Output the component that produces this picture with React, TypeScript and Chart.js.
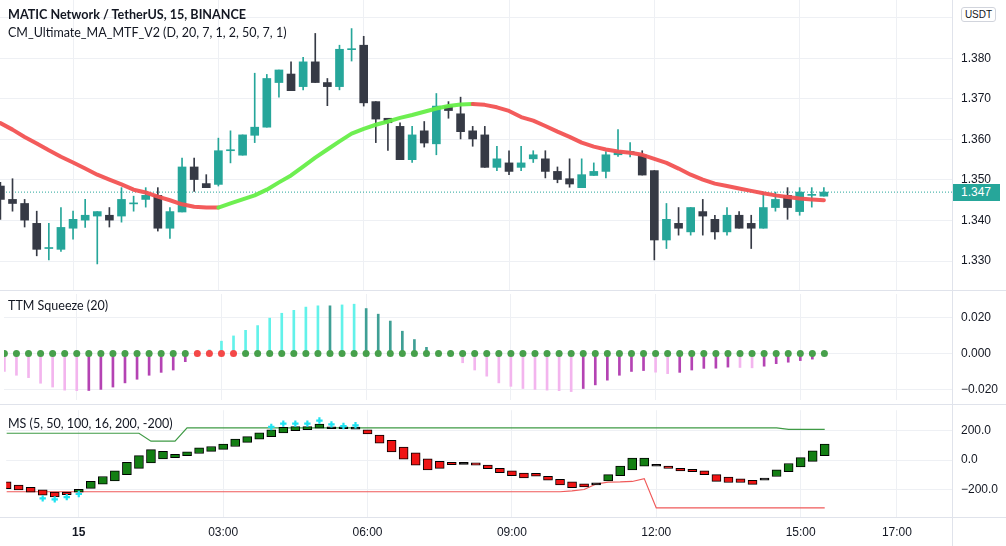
import React, { useEffect, useRef } from 'react';
import { Chart, registerables } from 'chart.js';

Chart.register(...registerables);

// ---------- data ----------
const timeTickIdx = [6, 18, 30, 42, 54, 66, 74];
const timeTickLabels = ['15', '03:00', '06:00', '09:00', '12:00', '15:00', '17:00'];

const opens = [1.3485, 1.3452, 1.3442, 1.3393, 1.3331, 1.3329, 1.3381, 1.3401, 1.3411, 1.3413, 1.3411, 1.3441, 1.3452, 1.3462, 1.3381, 1.3421, 1.3532, 1.3491, 1.3489, 1.3572, 1.3561, 1.3610, 1.3630, 1.3740, 1.3761, 1.3730, 1.3791, 1.3740, 1.3730, 1.3821, 1.3832, 1.3693, 1.3652, 1.3632, 1.3550, 1.3621, 1.3589, 1.3682, 1.3663, 1.3621, 1.3611, 1.3531, 1.3542, 1.3531, 1.3552, 1.3552, 1.3521, 1.3503, 1.3481, 1.3511, 1.3521, 1.3562, 1.3568, 1.3562, 1.3523, 1.3352, 1.3393, 1.3372, 1.3422, 1.3403, 1.3372, 1.3413, 1.3393, 1.3381, 1.3432, 1.3462, 1.3422, 1.3462, 1.3460];
const highs = [1.3494, 1.3503, 1.3452, 1.3423, 1.3393, 1.3432, 1.3423, 1.3452, 1.3422, 1.3432, 1.3481, 1.3460, 1.3481, 1.3481, 1.3432, 1.3554, 1.3554, 1.3513, 1.3603, 1.3621, 1.3611, 1.3763, 1.3760, 1.3771, 1.3791, 1.3802, 1.3861, 1.3750, 1.3832, 1.3873, 1.3854, 1.3693, 1.3652, 1.3641, 1.3632, 1.3644, 1.3713, 1.3693, 1.3704, 1.3632, 1.3632, 1.3583, 1.3572, 1.3583, 1.3572, 1.3572, 1.3532, 1.3552, 1.3552, 1.3542, 1.3570, 1.3624, 1.3592, 1.3572, 1.3523, 1.3442, 1.3432, 1.3432, 1.3452, 1.3413, 1.3432, 1.3422, 1.3413, 1.3470, 1.3470, 1.3481, 1.3481, 1.3481, 1.3481];
const lows = [1.3403, 1.3423, 1.3384, 1.3313, 1.3303, 1.3324, 1.3354, 1.3383, 1.3293, 1.3384, 1.3396, 1.3423, 1.3433, 1.3374, 1.3356, 1.3421, 1.3472, 1.3481, 1.3485, 1.3542, 1.3561, 1.3592, 1.3630, 1.3704, 1.3720, 1.3722, 1.3740, 1.3683, 1.3722, 1.3793, 1.3682, 1.3592, 1.3573, 1.3550, 1.3543, 1.3581, 1.3562, 1.3652, 1.3601, 1.3583, 1.3531, 1.3523, 1.3513, 1.3523, 1.3543, 1.3505, 1.3493, 1.3482, 1.3481, 1.3511, 1.3505, 1.3558, 1.3557, 1.3512, 1.3303, 1.3331, 1.3364, 1.3364, 1.3364, 1.3354, 1.3364, 1.3381, 1.3331, 1.3381, 1.3423, 1.3403, 1.3413, 1.3433, 1.3460];
const closes = [1.3452, 1.3442, 1.3401, 1.3329, 1.3332, 1.3383, 1.3403, 1.3413, 1.3422, 1.3401, 1.3452, 1.3442, 1.3462, 1.3381, 1.3422, 1.3532, 1.3501, 1.3481, 1.3572, 1.3573, 1.3611, 1.3630, 1.3750, 1.3771, 1.3720, 1.3791, 1.3740, 1.3730, 1.3822, 1.3822, 1.3690, 1.3650, 1.3641, 1.3550, 1.3611, 1.3591, 1.3682, 1.3671, 1.3619, 1.3601, 1.3531, 1.3552, 1.3521, 1.3542, 1.3562, 1.3521, 1.3501, 1.3490, 1.3513, 1.3521, 1.3562, 1.3570, 1.3569, 1.3512, 1.3352, 1.3403, 1.3381, 1.3432, 1.3411, 1.3372, 1.3413, 1.3381, 1.3381, 1.3432, 1.3452, 1.3432, 1.3470, 1.3463, 1.3470];
const maValues = [1.3640, 1.3624, 1.3606, 1.3590, 1.3573, 1.3557, 1.3543, 1.3528, 1.3513, 1.3501, 1.3489, 1.3476, 1.3469, 1.3459, 1.3450, 1.3440, 1.3434, 1.3432, 1.3432, 1.3442, 1.3452, 1.3462, 1.3476, 1.3494, 1.3511, 1.3533, 1.3555, 1.3575, 1.3595, 1.3614, 1.3626, 1.3636, 1.3644, 1.3653, 1.3660, 1.3668, 1.3676, 1.3682, 1.3686, 1.3687, 1.3685, 1.3679, 1.3670, 1.3655, 1.3646, 1.3633, 1.3619, 1.3606, 1.3592, 1.3582, 1.3575, 1.3570, 1.3567, 1.3562, 1.3552, 1.3542, 1.3528, 1.3513, 1.3501, 1.3491, 1.3485, 1.3479, 1.3473, 1.3467, 1.3462, 1.3458, 1.3454, 1.3452, 1.3450];
const lastPrice = 1.347;
const priceTicks = [1.33, 1.34, 1.35, 1.36, 1.37, 1.38, 1.39];

const ttmValues = [-0.0099, -0.0120, -0.0133, -0.0164, -0.0185, -0.0202, -0.0205, -0.0204, -0.0198, -0.0185, -0.0162, -0.0142, -0.0120, -0.0104, -0.0091, -0.0045, 0, 0.0020, 0.0068, 0.0097, 0.0128, 0.0154, 0.0195, 0.0222, 0.0238, 0.0256, 0.0263, 0.0263, 0.0268, 0.0272, 0.0248, 0.0217, 0.0179, 0.0123, 0.0077, 0.0034, 0, 0, -0.0051, -0.0091, -0.0125, -0.0162, -0.0181, -0.0193, -0.0198, -0.0202, -0.0205, -0.0210, -0.0193, -0.0173, -0.0147, -0.0120, -0.0099, -0.0094, -0.0103, -0.0111, -0.0104, -0.0091, -0.0082, -0.0081, -0.0075, -0.0077, -0.0079, -0.0070, -0.0056, -0.0048, -0.0039, -0.0031, 0];
const squeezeOnIdx = [16, 17, 18, 19];
const ttmTicks = [-0.02, 0, 0.02];

const msTop = [-146, -167, -182, -199, -214, -214, -195, -142, -110, -72, -15, 30, 70, 59, 38, 55, 83, 91, 108, 140, 157, 182, 203, 220, 224, 224, 241, 214, 214, 212, 203, 167, 133, 87, 49, 8, -8, -15, -15, -19, -34, -55, -72, -87, -89, -108, -129, -146, -159, -152, -97, -40, 13, 13, -28, -40, -55, -62, -72, -97, -114, -125, -135, -121, -65, -23, 17, 62, 108];
const msBottom = [-192, -199, -214, -235, -246, -231, -214, -189, -161, -140, -97, -55, -19, 8, 17, 30, 44, 59, 72, 91, 119, 140, 157, 182, 197, 203, 214, 210, 210, 208, 176, 114, 55, 6, -34, -65, -55, -30, -19, -34, -57, -84, -104, -119, -108, -135, -167, -184, -180, -156, -140, -104, -65, -40, -32, -55, -72, -78, -97, -142, -150, -150, -163, -129, -110, -78, -46, -8, 30];
const msKind = ['r', 'r', 'r', 'r', 'r', 'r', 'g', 'g', 'g', 'g', 'g', 'g', 'g', 'g', 'g', 'g', 'g', 'g', 'g', 'g', 'g', 'g', 'g', 'g', 'g', 'g', 'g', 'k', 'k', 'k', 'r', 'r', 'r', 'r', 'r', 'r', 'r', 'r', 'k', 'r', 'r', 'r', 'r', 'r', 'r', 'r', 'r', 'r', 'r', 'k', 'g', 'g', 'g', 'g', 'k', 'r', 'r', 'r', 'r', 'r', 'r', 'r', 'r', 'k', 'g', 'g', 'g', 'g', 'g'];
const msUpper = [180, 180, 180, 180, 180, 180, 180, 180, 180, 180, 180, 180, 127, 127, 127, 216, 216, 216, 216, 216, 216, 216, 216, 216, 216, 216, 216, 216, 216, 216, 216, 216, 216, 216, 216, 216, 216, 216, 216, 216, 216, 216, 216, 216, 216, 216, 216, 216, 216, 216, 216, 216, 216, 216, 216, 216, 216, 216, 216, 216, 216, 216, 216, 216, 216, 206, 206, 206, 206];
const msLower = [-212, -212, -212, -212, -212, -212, -212, -212, -212, -212, -212, -212, -212, -212, -212, -212, -212, -212, -212, -212, -212, -212, -212, -212, -212, -212, -212, -212, -212, -212, -212, -212, -212, -212, -212, -212, -212, -212, -212, -212, -212, -212, -212, -212, -212, -212, -212, -206, -197, -160, -147, -146, -143, -124, -320, -320, -320, -320, -320, -320, -320, -320, -320, -320, -320, -320, -320, -320, -320];
const msSignalIdx = [3, 4, 5, 6, 22, 23, 24, 25, 26, 27, 28, 29];
const msSignalVal = [-256, -263, -248, -227, 222, 244, 244, 244, 265, 239, 228, 233];
const msTicks = [-200, 0, 200];

// ---------- styles ----------
const X_MIN = -0.033;
const X_MAX = 78.58;
const GRID = '#eef0f4';
const SEP = '#e0e3eb';
const TEXT = '#131722';
const TEAL = '#26a69a';
const DARK = '#363a45';
const AXIS_FONT = "'Liberation Sans', Arial, sans-serif";
const LEGEND_FONT = "Lato, 'Open Sans', sans-serif";

const minus = (s: string) => s.replace('-', '\u2212');

function xScale(showLabels: boolean): any {
  return {
    type: 'linear',
    min: X_MIN,
    max: X_MAX,
    offset: false,
    bounds: 'data',
    grid: { color: GRID, drawTicks: false, offset: false, lineWidth: 1 },
    border: { display: false },
    afterBuildTicks: (s: any) => {
      s.ticks = timeTickIdx.map((v) => ({ value: v }));
    },
    afterFit: (s: any) => {
      s.height = showLabels ? 29 : 0;
      s.paddingLeft = 0;
      s.paddingRight = 0;
      s.paddingTop = 0;
      s.paddingBottom = 0;
    },
    ticks: {
      display: showLabels,
      autoSkip: false,
      maxRotation: 0,
      minRotation: 0,
      padding: 8,
      color: TEXT,
      font: (ctx: any) => ({
        family: AXIS_FONT,
        size: 12,
        weight: ctx.tick && ctx.tick.value === 6 ? 'bold' : 'normal',
      }),
      callback: (v: any) => {
        const k = timeTickIdx.indexOf(Math.round(Number(v)));
        return k >= 0 ? timeTickLabels[k] : '';
      },
    },
  };
}

function yScale(min: number, max: number, ticks: number[], fmt: (v: number) => string): any {
  return {
    type: 'linear',
    position: 'right',
    min,
    max,
    bounds: 'data',
    grid: { color: GRID, drawTicks: false },
    border: { display: true, color: SEP },
    afterBuildTicks: (s: any) => {
      s.ticks = ticks.map((v) => ({ value: v }));
    },
    afterFit: (s: any) => {
      s.width = 54;
      s.paddingTop = 0;
      s.paddingBottom = 0;
      s.paddingLeft = 0;
      s.paddingRight = 0;
    },
    ticks: {
      autoSkip: false,
      padding: 9,
      color: TEXT,
      font: { family: AXIS_FONT, size: 12 },
      callback: (v: any) => fmt(Number(v)),
    },
  };
}

const baseOptions: any = {
  responsive: false,
  maintainAspectRatio: false,
  animation: false,
  events: [],
  layout: { padding: 0 },
  plugins: { legend: { display: false }, tooltip: { enabled: false } },
};

function mainConfig(): any {
  const colors = opens.map((o, i) => (closes[i] >= o ? TEAL : DARK));
  return {
    type: 'bar',
    data: {
      datasets: [
        {
          type: 'line',
          data: maValues.map((y, i) => ({ x: i, y })),
          borderWidth: 4,
          pointRadius: 0,
          borderCapStyle: 'round',
          borderJoinStyle: 'round',
          segment: {
            borderColor: (ctx: any) => (ctx.p1.parsed.y > ctx.p0.parsed.y ? 'rgba(102,238,72,0.95)' : 'rgba(242,82,82,0.95)'),
          },
          order: 0,
        },
        {
          type: 'bar',
          data: opens.map((o, i) => ({ x: i, y: [o, closes[i]] })),
          backgroundColor: colors,
          barThickness: 8,
          minBarLength: 1,
          grouped: false,
          borderWidth: 0,
          order: 1,
        },
        {
          type: 'bar',
          data: lows.map((l, i) => ({ x: i, y: [l, highs[i]] })),
          backgroundColor: colors,
          barThickness: 1,
          grouped: false,
          borderWidth: 0,
          order: 2,
        },
        {
          type: 'line',
          data: [
            { x: X_MIN, y: lastPrice },
            { x: X_MAX, y: lastPrice },
          ],
          borderColor: TEAL,
          borderWidth: 1,
          borderDash: [1, 2],
          pointRadius: 0,
          order: 3,
        },
      ],
    },
    options: {
      ...baseOptions,
      scales: {
        x: xScale(false),
        y: yScale(1.322878, 1.394342, priceTicks, (v) => (v > 1.385 ? '' : v.toFixed(3))),
      },
    },
  };
}

function ttmConfig(): any {
  const colors = ttmValues.map((v, i) => {
    const prev = i > 0 ? ttmValues[i - 1] : v + 0.001;
    if (v >= 0) return v > prev ? '#62f2ea' : '#3f9f95';
    return v > prev ? '#b443b3' : '#f3b5ee';
  });
  return {
    type: 'bar',
    data: {
      datasets: [
        {
          type: 'line',
          data: ttmValues.map((_, i) => ({ x: i, y: 0 })),
          showLine: false,
          pointRadius: 3.5,
          pointBorderWidth: 0,
          pointBackgroundColor: ttmValues.map((_, i) => (squeezeOnIdx.includes(i) ? '#f44848' : '#47a04b')),
          order: 0,
        },
        {
          type: 'bar',
          data: ttmValues.map((v, i) => ({ x: i, y: [0, v] })),
          backgroundColor: colors,
          barThickness: 2,
          grouped: false,
          borderWidth: 0,
          order: 1,
        },
      ],
    },
    options: {
      ...baseOptions,
      scales: {
        x: xScale(false),
        y: yScale(-0.02564, 0.03282, ttmTicks, (v) => minus(v.toFixed(3))),
      },
    },
  };
}

function msConfig(): any {
  const fill = msKind.map((k) => (k === 'g' ? '#137f13' : k === 'r' ? '#f01414' : '#000000'));
  return {
    type: 'bar',
    data: {
      datasets: [
        {
          type: 'line',
          data: msSignalIdx.map((x, i) => ({ x, y: msSignalVal[i] })),
          showLine: false,
          pointStyle: 'cross',
          pointRadius: 3.2,
          pointBorderWidth: 2.2,
          pointBorderColor: '#1fe2f0',
          borderColor: '#1fe2f0',
          order: 0,
        },
        {
          type: 'bar',
          data: msTop.map((t, i) => ({ x: i, y: [msBottom[i], t] })),
          backgroundColor: fill,
          borderColor: '#000000',
          borderWidth: 1,
          borderSkipped: false,
          barThickness: 9,
          minBarLength: 2,
          grouped: false,
          order: 1,
        },
        {
          type: 'line',
          data: msUpper.map((y, i) => ({ x: i, y })),
          borderColor: '#3f9a45',
          borderWidth: 1.2,
          pointRadius: 0,
          order: 2,
        },
        {
          type: 'line',
          data: msLower.map((y, i) => ({ x: i, y })),
          borderColor: '#f05a5a',
          borderWidth: 1.2,
          pointRadius: 0,
          order: 3,
        },
      ],
    },
    options: {
      ...baseOptions,
      scales: {
        x: xScale(true),
        y: yScale(-381, 334.2, msTicks, (v) => minus(v.toFixed(1))),
      },
    },
  };
}

const legendStyle = (top: number, bold = false): React.CSSProperties => ({
  position: 'absolute',
  left: 8,
  top,
  fontFamily: LEGEND_FONT,
  fontSize: bold ? 12.6 : 12.5,
  lineHeight: '16px',
  fontWeight: bold ? 700 : 400,
  color: TEXT,
  whiteSpace: 'nowrap',
  pointerEvents: 'none',
});

const line = (left: number, top: number, width: number, height: number): React.CSSProperties => ({
  position: 'absolute',
  left,
  top,
  width,
  height,
  background: SEP,
});

export default function App() {
  const r1 = useRef<HTMLCanvasElement>(null);
  const r2 = useRef<HTMLCanvasElement>(null);
  const r3 = useRef<HTMLCanvasElement>(null);

  useEffect(() => {
    const charts = [
      new Chart(r1.current as HTMLCanvasElement, mainConfig()),
      new Chart(r2.current as HTMLCanvasElement, ttmConfig()),
      new Chart(r3.current as HTMLCanvasElement, msConfig()),
    ];
    return () => charts.forEach((c) => c.destroy());
  }, []);

  return (
    <div style={{ position: 'fixed', left: 0, top: 0, width: 1006, height: 546, background: '#ffffff', overflow: 'hidden' }}>
      <canvas ref={r1} width={1006} height={290} style={{ position: 'absolute', left: 0, top: 0 }} />
      <canvas ref={r2} width={1006} height={114} style={{ position: 'absolute', left: 0, top: 290 }} />
      <canvas ref={r3} width={1006} height={142} style={{ position: 'absolute', left: 0, top: 404 }} />

      <div style={line(0, 290, 1006, 1)} />
      <div style={line(0, 404, 1006, 1)} />
      <div style={line(0, 517, 1006, 1)} />
      <div style={line(952, 0, 1, 546)} />

      <div style={legendStyle(7, true)}>MATIC Network / TetherUS, 15, BINANCE</div>
      <div style={legendStyle(25)}>CM_Ultimate_MA_MTF_V2 (D, 20, 7, 1, 2, 50, 7, 1)</div>
      <div style={legendStyle(298)}>TTM Squeeze (20)</div>
      <div style={legendStyle(416)}>MS (5, 50, 100, 16, 200, -200)</div>

      <div
        style={{
          position: 'absolute',
          left: 961,
          top: 7,
          width: 33,
          height: 13,
          border: '1px solid #d1d4dc',
          borderRadius: 3,
          fontFamily: AXIS_FONT,
          fontSize: 10,
          lineHeight: '13px',
          textAlign: 'center',
          color: TEXT,
          background: '#fff',
        }}
      >
        USDT
      </div>
      <div
        style={{
          position: 'absolute',
          left: 953,
          top: 184,
          width: 47,
          height: 17,
          background: TEAL,
          color: '#ffffff',
          fontFamily: AXIS_FONT,
          fontSize: 12,
          lineHeight: '17px',
          paddingLeft: 8,
          boxSizing: 'border-box',
        }}
      >
        1.347
      </div>
    </div>
  );
}
